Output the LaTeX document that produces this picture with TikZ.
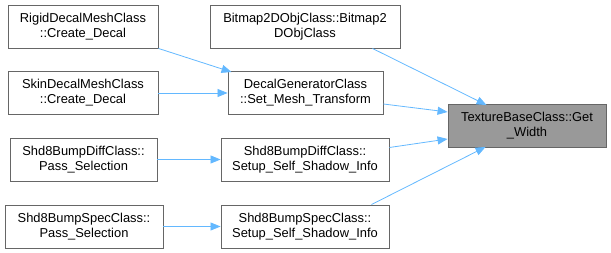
\documentclass[tikz,border=0pt]{standalone}
\usepackage{fontspec}
\setmainfont{Liberation Sans}
\usepackage{xcolor}
\usetikzlibrary{arrows.meta,positioning}

\definecolor{edgeblue}{HTML}{63B8FF}
\definecolor{boxline}{HTML}{666666}
\definecolor{focusgray}{HTML}{999999}

\begin{document}
\begin{tikzpicture}[
      x=1pt, y=-1pt,
      func/.style={
        draw=boxline,
        fill=white,
        line width=0.9pt,
        minimum height=43pt,
        inner sep=0pt,
        align=center,
        font=\fontsize{12.9}{15}\selectfont
      },
      focus/.style={func, fill=focusgray},
      call/.style={
        draw=edgeblue,
        line width=0.8pt,
        -{Triangle[length=10pt,width=8pt]}
      }
    ]
      \path[use as bounding box] (0,0) rectangle (611,253);

      % Callers, left column
      \node[func, minimum width=150pt] (rigid) at (83,26.5) {RigidDecalMeshClass\\::Create\_Decal};
      \node[func, minimum width=150pt] (skin) at (83,93) {SkinDecalMeshClass\\::Create\_Decal};
      \node[func, minimum width=147pt] (diffpass) at (83.5,159.5) {Shd8BumpDiffClass::\\Pass\_Selection};
      \node[func, minimum width=158pt] (specpass) at (84,226.5) {Shd8BumpSpecClass::\\Pass\_Selection};

      % Callers, middle column
      \node[func, minimum width=190pt] (bitmap) at (305,26.5) {Bitmap2DObjClass::Bitmap2\\DObjClass};
      \node[func, minimum width=155pt] (decalgen) at (305.5,93) {DecalGeneratorClass\\::Set\_Mesh\_Transform};
      \node[func, minimum width=168pt] (diffsetup) at (305,159.5) {Shd8BumpDiffClass::\\Setup\_Self\_Shadow\_Info};
      \node[func, minimum width=168pt] (specsetup) at (305,226.5) {Shd8BumpSpecClass::\\Setup\_Self\_Shadow\_Info};

      % Called function
      \node[focus, minimum width=158pt] (getwidth) at (527,126) {TextureBaseClass::Get\\\_Width};

      % Connections
      \draw[call] (rigid.south east) -- ([xshift=4pt,yshift=-1pt]decalgen.north west);
      \draw[call] (skin.east) -- (decalgen.west);
      \draw[call] (diffpass.east) -- (diffsetup.west);
      \draw[call] (specpass.east) -- (specsetup.west);
      \draw[call] ([xshift=-28pt]bitmap.south east) -- ([xshift=39pt,yshift=-1pt]getwidth.north west);
      \draw[call] ([yshift=-11pt]decalgen.east) -- ([yshift=14pt]getwidth.west);
      \draw[call] ([yshift=12pt]diffsetup.east) -- ([yshift=-13pt]getwidth.west);
      \draw[call] ([xshift=-18pt]specsetup.north east) -- ([xshift=38pt,yshift=1pt]getwidth.south west);
    \end{tikzpicture}
\end{document}
